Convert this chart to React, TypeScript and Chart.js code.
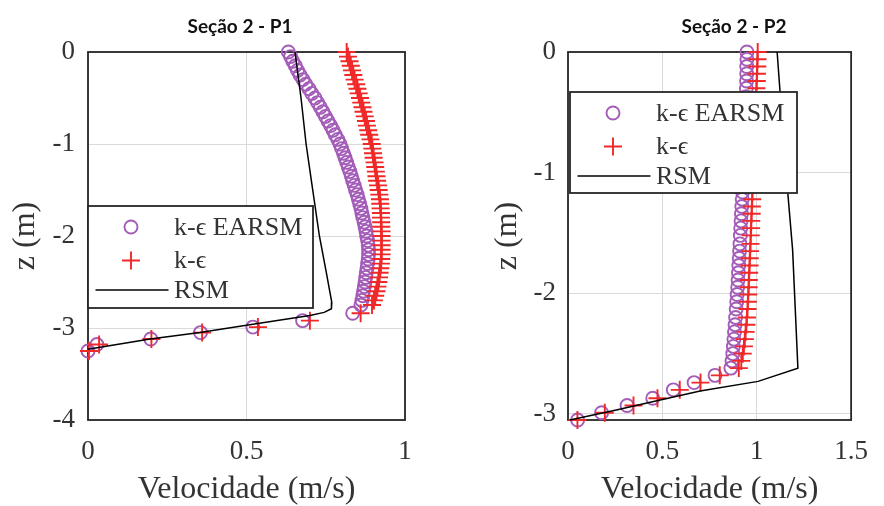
import React, { useEffect, useRef } from 'react';
import { Chart, registerables } from 'chart.js';

Chart.register(...registerables);

// ---------- Panel 1 (Seção 2 - P1) ----------
const p1Z = [
  0, -0.05, -0.1, -0.15, -0.2, -0.25, -0.3, -0.35, -0.4, -0.45,
  -0.5, -0.55, -0.6, -0.65, -0.7, -0.75, -0.8, -0.85, -0.9, -0.95,
  -1.0, -1.05, -1.1, -1.15, -1.2, -1.25, -1.3, -1.35, -1.4, -1.45,
  -1.5, -1.55, -1.6, -1.65, -1.7, -1.75, -1.8, -1.85, -1.9, -1.95,
  -2.0, -2.05, -2.1, -2.15, -2.2, -2.25, -2.3, -2.35, -2.4, -2.45,
  -2.5, -2.55, -2.6, -2.65, -2.7, -2.75,
  -2.84, -2.92, -2.99, -3.05, -3.12, -3.18, -3.25,
];
const p1Earsm = [
  0.632, 0.639, 0.646, 0.654, 0.661, 0.669, 0.678, 0.687, 0.697, 0.706,
  0.716, 0.724, 0.733, 0.741, 0.749, 0.757, 0.765, 0.773, 0.78, 0.788,
  0.795, 0.8, 0.806, 0.811, 0.816, 0.821, 0.826, 0.831, 0.835, 0.84,
  0.844, 0.849, 0.853, 0.857, 0.861, 0.864, 0.867, 0.871, 0.874, 0.877,
  0.879, 0.882, 0.884, 0.885, 0.885, 0.884, 0.882, 0.88, 0.878, 0.876,
  0.874, 0.872, 0.869, 0.867, 0.864, 0.861,
  0.835, 0.677, 0.52, 0.355, 0.198, 0.028, 0.0,
];
const p1Ke = [
  0.816, 0.82, 0.825, 0.829, 0.833, 0.837, 0.841, 0.846, 0.85, 0.854,
  0.858, 0.862, 0.866, 0.869, 0.873, 0.877, 0.88, 0.884, 0.887, 0.891,
  0.895, 0.897, 0.899, 0.901, 0.904, 0.906, 0.908, 0.91, 0.912, 0.915,
  0.917, 0.919, 0.921, 0.922, 0.923, 0.924, 0.924, 0.925, 0.925, 0.926,
  0.926, 0.926, 0.926, 0.926, 0.926, 0.925, 0.924, 0.922, 0.92, 0.918,
  0.916, 0.913, 0.91, 0.906, 0.902, 0.896,
  0.86, 0.7, 0.536, 0.36, 0.2, 0.035, 0.003,
];
const p1RsmV = [0.653, 0.672, 0.688, 0.706, 0.73, 0.752, 0.769, 0.768, 0.745, 0.7, 0.52, 0.353, 0.196, 0.0];
const p1RsmZ = [0, -0.5, -1.0, -1.43, -2.0, -2.4, -2.72, -2.79, -2.83, -2.865, -2.96, -3.05, -3.12, -3.23];
const p1XTicks = [0, 0.5, 1];
const p1XLabels = ['0', '0.5', '1'];
const p1YTicks = [0, -1, -2, -3, -4];
const p1YLabels = ['0', '-1', '-2', '-3', '-4'];

// ---------- Panel 2 (Seção 2 - P2) ----------
const p2Z = [
  0, -0.06, -0.12, -0.18, -0.24, -0.3, -0.37, -0.43, -0.49, -0.55,
  -0.61, -0.67, -0.73, -0.79, -0.85, -0.91, -0.98, -1.04, -1.1, -1.16,
  -1.22, -1.28, -1.34, -1.4, -1.46, -1.52, -1.59, -1.65, -1.71, -1.77,
  -1.83, -1.89, -1.95, -2.01, -2.07, -2.13, -2.2, -2.26, -2.32, -2.38,
  -2.44, -2.5, -2.56,
  -2.62, -2.68, -2.74, -2.8, -2.87, -2.93, -2.99, -3.05,
];
const p2Earsm = [
  0.948, 0.948, 0.947, 0.947, 0.946, 0.945, 0.944, 0.943, 0.942, 0.941,
  0.94, 0.939, 0.937, 0.936, 0.935, 0.933, 0.931, 0.929, 0.927, 0.925,
  0.923, 0.921, 0.919, 0.917, 0.915, 0.913, 0.911, 0.909, 0.907, 0.905,
  0.903, 0.901, 0.899, 0.896, 0.894, 0.891, 0.888, 0.885, 0.882, 0.879,
  0.876, 0.873, 0.869,
  0.863, 0.779, 0.668, 0.558, 0.449, 0.313, 0.178, 0.051,
];
const p2Ke = [
  1.005, 1.004, 1.003, 1.001, 1.0, 0.998, 0.997, 0.995, 0.994, 0.992,
  0.991, 0.989, 0.988, 0.986, 0.985, 0.983, 0.982, 0.98, 0.979, 0.977,
  0.976, 0.974, 0.973, 0.971, 0.97, 0.968, 0.967, 0.965, 0.963, 0.962,
  0.96, 0.958, 0.957, 0.955, 0.953, 0.951, 0.948, 0.945, 0.941, 0.937,
  0.932, 0.926, 0.918,
  0.905, 0.804, 0.702, 0.592, 0.474, 0.347, 0.195, 0.05,
];
const p2RsmV = [1.108, 1.15, 1.19, 1.218, 1.007, 0.7, 0.5, 0.25, 0.01];
const p2RsmZ = [0, -0.9, -1.64, -2.62, -2.73, -2.81, -2.88, -2.97, -3.05];
const p2XTicks = [0, 0.5, 1, 1.5];
const p2XLabels = ['0', '0.5', '1', '1.5'];
const p2YTicks = [0, -1, -2, -3];
const p2YLabels = ['0', '-1', '-2', '-3'];

const seriesNames = ['k-\u03f5 EARSM', 'k-\u03f5', 'RSM'];
const xAxisTitle = 'Velocidade (m/s)';
const yAxisTitle = 'z (m)';

const SERIF = '"Liberation Serif", "Times New Roman", "DejaVu Serif", serif';
const PURPLE = '#a35cb8';
const RED = 'rgb(240,40,40)';
const TEXT = '#333333';

type Panel = {
  title: string;
  titleX: number;
  z: number[];
  earsm: number[];
  ke: number[];
  rsmV: number[];
  rsmZ: number[];
  xTicks: number[];
  xLabels: string[];
  yTicks: number[];
  yLabels: string[];
  xMax: number;
  yMin: number;
  yMax: number;
  yAxisWidth: number;
  padRight: number;
  yTitlePad: number;
  yTickPad: number;
  legend: { dx: number; y: number; w: number; h: number };
};

const panels: Panel[] = [
  {
    title: 'Seção 2 - P1',
    titleX: 240,
    z: p1Z, earsm: p1Earsm, ke: p1Ke, rsmV: p1RsmV, rsmZ: p1RsmZ,
    xTicks: p1XTicks, xLabels: p1XLabels, yTicks: p1YTicks, yLabels: p1YLabels,
    xMax: 1, yMin: -4, yMax: 0,
    yAxisWidth: 88, padRight: 37, yTitlePad: 10, yTickPad: 13,
    legend: { dx: 0, y: 206, w: 225, h: 102 },
  },
  {
    title: 'Seção 2 - P2',
    titleX: 292,
    z: p2Z, earsm: p2Earsm, ke: p2Ke, rsmV: p2RsmV, rsmZ: p2RsmZ,
    xTicks: p2XTicks, xLabels: p2XLabels, yTicks: p2YTicks, yLabels: p2YLabels,
    xMax: 1.5, yMin: -3.05, yMax: 0,
    yAxisWidth: 126, padRight: 21, yTitlePad: 50, yTickPad: 12,
    legend: { dx: 2, y: 92, w: 227, h: 101 },
  },
];

function buildChart(canvas: HTMLCanvasElement, p: Panel) {
  const pts = (xs: number[], zs: number[]) => xs.map((v, i) => ({ x: v, y: zs[i] }));

  const decor = {
    id: 'decor',
    beforeDatasetsDraw(chart: any) {
      const { ctx, chartArea: a } = chart;
      ctx.save();
      ctx.strokeStyle = '#262626';
      ctx.lineWidth = 1.8;
      ctx.strokeRect(a.left, a.top, a.right - a.left, a.bottom - a.top);
      ctx.restore();
    },
    afterDatasetsDraw(chart: any) {
      const { ctx, chartArea: a } = chart;
      const L = p.legend;
      const x0 = a.left + L.dx;
      ctx.save();
      ctx.fillStyle = '#ffffff';
      ctx.fillRect(x0, L.y, L.w, L.h);
      ctx.strokeStyle = '#262626';
      ctx.lineWidth = 1.8;
      ctx.strokeRect(x0, L.y, L.w, L.h);
      const rows = [L.y + 21, L.y + 54.5, L.y + 84];
      const sx = x0 + 43;
      ctx.strokeStyle = PURPLE;
      ctx.lineWidth = 1.9;
      ctx.beginPath();
      ctx.arc(sx, rows[0], 6.5, 0, Math.PI * 2);
      ctx.stroke();
      ctx.strokeStyle = RED;
      ctx.beginPath();
      ctx.moveTo(sx - 9, rows[1]);
      ctx.lineTo(sx + 9, rows[1]);
      ctx.moveTo(sx, rows[1] - 9);
      ctx.lineTo(sx, rows[1] + 9);
      ctx.stroke();
      ctx.strokeStyle = '#000000';
      ctx.lineWidth = 1.5;
      ctx.beginPath();
      ctx.moveTo(x0 + 7.5, rows[2]);
      ctx.lineTo(x0 + 80.5, rows[2]);
      ctx.stroke();
      ctx.fillStyle = TEXT;
      ctx.font = `26px ${SERIF}`;
      ctx.textBaseline = 'middle';
      ctx.textAlign = 'left';
      seriesNames.forEach((n, i) => ctx.fillText(n, x0 + 86, rows[i] + 1));
      ctx.restore();
    },
    afterDraw(chart: any) {
      const { ctx } = chart;
      ctx.save();
      ctx.fillStyle = '#111111';
      ctx.font = 'bold 19px Lato, "Liberation Sans", sans-serif';
      ctx.textAlign = 'center';
      ctx.textBaseline = 'middle';
      ctx.fillText(p.title, p.titleX, 27);
      ctx.restore();
    },
  };

  return new Chart(canvas, {
    type: 'scatter',
    data: {
      datasets: [
        {
          label: seriesNames[0],
          data: pts(p.earsm, p.z),
          pointStyle: 'circle',
          pointRadius: 6.5,
          pointBorderWidth: 1.9,
          borderColor: PURPLE,
          backgroundColor: 'rgba(0,0,0,0)',
          showLine: false,
          clip: false,
          order: 3,
        },
        {
          label: seriesNames[1],
          data: pts(p.ke, p.z),
          pointStyle: 'cross',
          pointRadius: 9,
          pointBorderWidth: 1.9,
          borderColor: RED,
          backgroundColor: RED,
          showLine: false,
          clip: false,
          order: 2,
        },
        {
          label: seriesNames[2],
          data: pts(p.rsmV, p.rsmZ),
          showLine: true,
          pointRadius: 0,
          borderColor: '#000000',
          borderWidth: 1.5,
          tension: 0,
          clip: false,
          order: 1,
        },
      ],
    } as any,
    options: {
      responsive: false,
      animation: false,
      devicePixelRatio: 1,
      events: [],
      layout: { padding: { left: 0, top: 52, right: p.padRight, bottom: 0 } },
      plugins: {
        legend: { display: false },
        tooltip: { enabled: false },
        title: { display: false },
      },
      scales: {
        x: {
          type: 'linear',
          position: 'bottom',
          min: 0,
          max: p.xMax,
          afterBuildTicks: (s: any) => {
            s.ticks = p.xTicks.map((v) => ({ value: v }));
          },
          afterFit: (s: any) => {
            s.height = 86;
          },
          ticks: {
            padding: 16,
            color: TEXT,
            font: { family: SERIF, size: 27 },
            maxRotation: 0,
            autoSkip: false,
            callback: (_v: any, i: number) => p.xLabels[i],
          },
          grid: { color: '#dadada', lineWidth: 1, drawTicks: false },
          border: { display: false },
          title: {
            display: true,
            text: xAxisTitle,
            color: TEXT,
            font: { family: SERIF, size: 32, lineHeight: 1 },
            padding: { top: 0, bottom: 0 },
          },
        },
        y: {
          type: 'linear',
          position: 'left',
          min: p.yMin,
          max: p.yMax,
          afterBuildTicks: (s: any) => {
            s.ticks = p.yTicks.map((v) => ({ value: v }));
          },
          afterFit: (s: any) => {
            s.width = p.yAxisWidth;
          },
          ticks: {
            padding: p.yTickPad,
            color: TEXT,
            font: { family: SERIF, size: 27 },
            autoSkip: false,
            callback: (_v: any, i: number) => p.yLabels[i],
          },
          grid: { color: '#dadada', lineWidth: 1, drawTicks: false },
          border: { display: false },
          title: {
            display: true,
            text: yAxisTitle,
            color: TEXT,
            font: { family: SERIF, size: 32, lineHeight: 1 },
            padding: { top: p.yTitlePad, bottom: 0 },
          },
        },
      },
    } as any,
    plugins: [decor],
  });
}

export default function App() {
  const ref1 = useRef<HTMLCanvasElement>(null);
  const ref2 = useRef<HTMLCanvasElement>(null);

  useEffect(() => {
    document.body.style.margin = '0';
    document.body.style.background = '#ffffff';
    const charts: Chart[] = [];
    if (ref1.current) charts.push(buildChart(ref1.current, panels[0]));
    if (ref2.current) charts.push(buildChart(ref2.current, panels[1]));
    return () => charts.forEach((c) => c.destroy());
  }, []);

  return (
    <div style={{ position: 'relative', width: 884, height: 506, background: '#fff' }}>
      <canvas ref={ref1} width={442} height={506} style={{ position: 'absolute', left: 0, top: 0, width: 442, height: 506 }} />
      <canvas ref={ref2} width={442} height={506} style={{ position: 'absolute', left: 442, top: 0, width: 442, height: 506 }} />
    </div>
  );
}
